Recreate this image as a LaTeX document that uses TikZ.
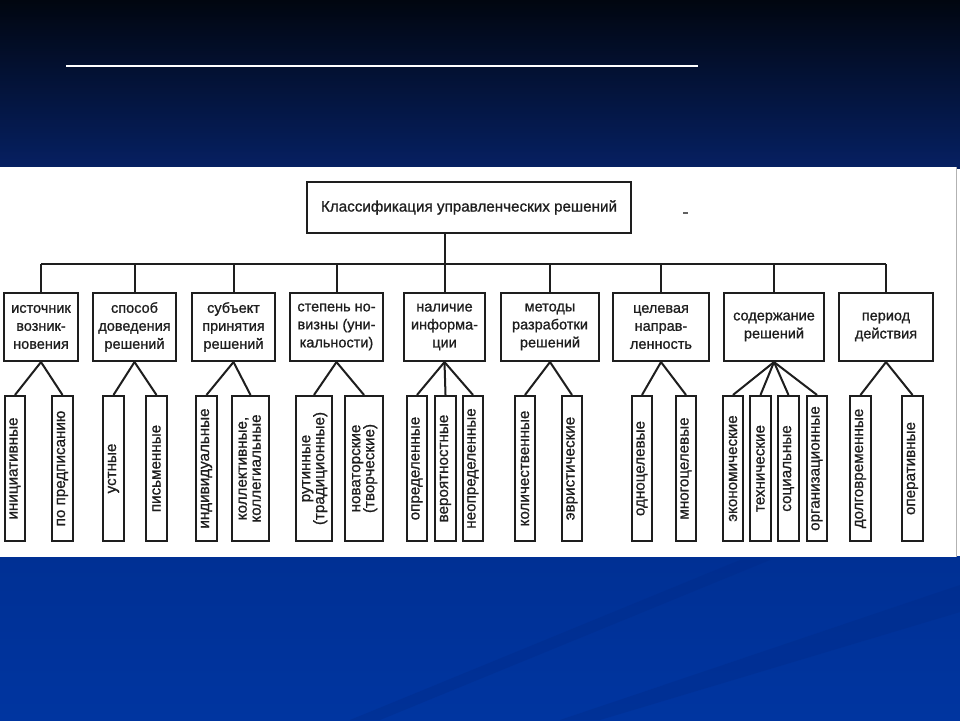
\documentclass[tikz,border=0pt]{standalone}
\usepackage{fontspec}
\setmainfont{Liberation Sans}[BoldFont={Liberation Sans}, BoldFeatures={FakeBold=0.9}]
\definecolor{ink}{RGB}{30,30,30}
\definecolor{bgTop}{RGB}{1,6,16}
\definecolor{bgMid}{RGB}{6,32,98}
\definecolor{bgLowA}{RGB}{0,48,148}
\definecolor{bgLowB}{RGB}{0,53,160}
\definecolor{streak}{RGB}{0,42,135}
\begin{document}
\begin{tikzpicture}[x=1pt,y=-1pt,
  box/.style={draw=ink, line width=2.1pt, fill=white, text=ink, align=center, inner sep=0pt,
    font=\fontsize{14.5}{18}\selectfont\bfseries},
  leaf/.style={draw=ink, line width=2.1pt, fill=white, text=ink, align=center, inner sep=0pt,
    minimum height=145pt, font=\fontsize{15.2}{16}\selectfont\bfseries},
  link/.style={draw=ink, line width=2pt}]
\useasboundingbox (0,0) rectangle (960,720);
% background
\fill[top color=bgTop, bottom color=bgMid] (0,0) rectangle (960,168);
\fill[top color=bgLowA, bottom color=bgLowB] (0,556) rectangle (960,720);
\fill[streak, opacity=0.35] (350,720) -- (740,560) -- (770,560) -- (380,720) -- cycle;
\fill[streak, opacity=0.35] (560,720) -- (960,585) -- (960,612) -- (600,720) -- cycle;
\draw[white, line width=1.3pt] (66,66) -- (698,66);
% panel
\fill[white] (0,167) rectangle (956,557);
\draw[gray!60, line width=0.8pt] (956,167) -- (956,557);
% top
\node[box, minimum width=324pt, minimum height=51pt, font=\fontsize{15.2}{18}\selectfont\bfseries] (top) at (469,207.5) {Классификация управленческих решений};
\draw[ink!70, line width=1.2pt] (683,213) -- (688,213);
% level 2
\node[box, minimum width=74pt, minimum height=68pt] (b1) at (41,327) {источник\\возник-\\новения};
\node[box, minimum width=83pt, minimum height=68pt] (b2) at (134.5,327) {способ\\доведения\\решений};
\node[box, minimum width=83pt, minimum height=68pt] (b3) at (233.5,327) {субъект\\принятия\\решений};
\node[box, minimum width=93pt, minimum height=68pt] (b4) at (336.5,327) {степень но-\\визны (уни-\\кальности)};
\node[box, minimum width=81pt, minimum height=68pt] (b5) at (444.5,327) {наличие\\информа-\\ции};
\node[box, minimum width=98pt, minimum height=68pt] (b6) at (550,327) {методы\\разработки\\решений};
\node[box, minimum width=96pt, minimum height=68pt] (b7) at (661,327) {целевая\\направ-\\ленность};
\node[box, minimum width=100pt, minimum height=68pt] (b8) at (774,327) {содержание\\решений};
\node[box, minimum width=94pt, minimum height=68pt] (b9) at (886,327) {период\\действия};
\coordinate (bar) at (444.5,264);
\draw[link] (b5.north |- top.south) -- (b5.north);
\draw[link] (b1.north |- bar) -- (b9.north |- bar);
\foreach \b in {b1,b2,b3,b4,b6,b7,b8,b9}{\draw[link] (\b.north |- bar) -- (\b.north);}
% level 3
\node[leaf, minimum width=20pt] (a1) at (15,468.5) {\rotatebox{90}{инициативные}};
\node[leaf, minimum width=21pt] (a2) at (62.5,468.5) {\rotatebox{90}{по предписанию}};
\node[leaf, minimum width=21pt] (c1) at (113.5,468.5) {\rotatebox{90}{устные}};
\node[leaf, minimum width=21pt] (c2) at (156.5,468.5) {\rotatebox{90}{письменные}};
\node[leaf, minimum width=21pt] (d1) at (206.5,468.5) {\rotatebox{90}{индивидуальные}};
\node[leaf, minimum width=37pt] (d2) at (250.5,468.5) {\rotatebox{90}{\begin{tabular}{@{}c@{}}коллективные,\\[-2pt]коллегиальные\end{tabular}}};
\node[leaf, minimum width=36pt] (e1) at (314,468.5) {\rotatebox{90}{\begin{tabular}{@{}c@{}}рутинные\\[-2pt](традиционные)\end{tabular}}};
\node[leaf, minimum width=38pt] (e2) at (364,468.5) {\rotatebox{90}{\begin{tabular}{@{}c@{}}новаторские\\[-2pt](творческие)\end{tabular}}};
\node[leaf, minimum width=20pt] (f1) at (417,468.5) {\rotatebox{90}{определенные}};
\node[leaf, minimum width=21pt] (f2) at (445.5,468.5) {\rotatebox{90}{вероятностные}};
\node[leaf, minimum width=20pt] (f3) at (473,468.5) {\rotatebox{90}{неопределенные}};
\node[leaf, minimum width=20pt] (g1) at (525,468.5) {\rotatebox{90}{количественные}};
\node[leaf, minimum width=20pt] (g2) at (572,468.5) {\rotatebox{90}{эвристические}};
\node[leaf, minimum width=20pt] (h1) at (642,468.5) {\rotatebox{90}{одноцелевые}};
\node[leaf, minimum width=20pt] (h2) at (686,468.5) {\rotatebox{90}{многоцелевые}};
\node[leaf, minimum width=20pt] (k1) at (733,468.5) {\rotatebox{90}{экономические}};
\node[leaf, minimum width=21pt] (k2) at (760.5,468.5) {\rotatebox{90}{технические}};
\node[leaf, minimum width=21pt] (k3) at (788.5,468.5) {\rotatebox{90}{социальные}};
\node[leaf, minimum width=20pt] (k4) at (817,468.5) {\rotatebox{90}{организационные}};
\node[leaf, minimum width=21pt] (m1) at (860.5,468.5) {\rotatebox{90}{долговременные}};
\node[leaf, minimum width=21pt] (m2) at (912.5,468.5) {\rotatebox{90}{оперативные}};
% connectors
\foreach \p/\c in {b1/a1,b1/a2,b2/c1,b2/c2,b3/d1,b3/d2,b4/e1,b4/e2,b5/f1,b5/f2,b5/f3,
  b6/g1,b6/g2,b7/h1,b7/h2,b8/k1,b8/k2,b8/k3,b8/k4,b9/m1,b9/m2}
  {\draw[link] (\p.south) -- (\c.north);}
\end{tikzpicture}
\end{document}
